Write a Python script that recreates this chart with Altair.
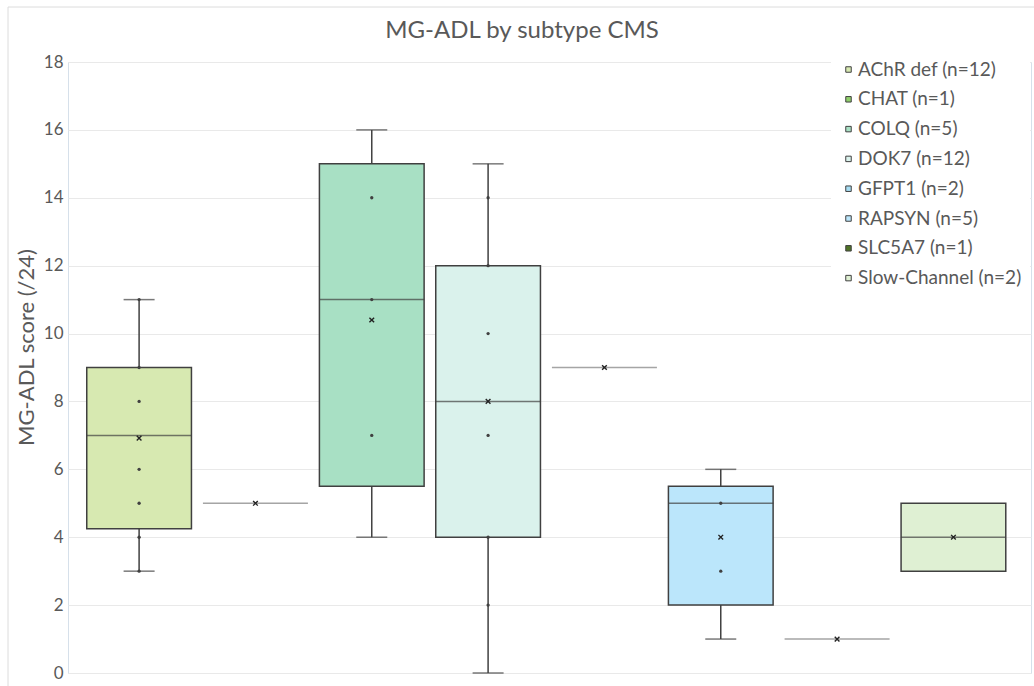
import altair as alt
import pandas as pd

# Summary statistics of MG-ADL score per CMS subtype
subtypes = ["AChR def", "CHAT", "COLQ", "DOK7", "GFPT1", "RAPSYN", "SLC5A7", "Slow-Channel"]
counts = [12, 1, 5, 12, 2, 5, 1, 2]
whisker_low = [3, 5, 4, 0, 9, 1, 1, 3]
quart1 = [4.25, 5, 5.5, 4, 9, 2, 1, 3]
medians = [7, 5, 11, 8, 9, 5, 1, 4]
quart3 = [9, 5, 15, 12, 9, 5.5, 1, 5]
whisker_high = [11, 5, 16, 15, 9, 6, 1, 5]
means = [6.92, 5, 10.4, 8, 9, 4, 1, 4]
fills = ["#d7e9b1", "#8fcf6b", "#a8e0c4", "#daf2ec", "#a6dcf2", "#bbe6fb", "#4f7326", "#dff0d3"]

# Individual scores drawn inside the boxes
inner_points = {
    "AChR def": [3, 4, 5, 6, 8, 9, 11],
    "COLQ": [7, 11, 14],
    "DOK7": [2, 4, 7, 10, 12, 14],
    "RAPSYN": [3, 5],
}

chart_title = "MG-ADL by subtype CMS"
y_title = "MG-ADL score (/24)"

labels = [f"{s} (n={n})" for s, n in zip(subtypes, counts)]
name_to_label = dict(zip(subtypes, labels))

stats = pd.DataFrame({
    "group": labels,
    "low": whisker_low,
    "q1": quart1,
    "median": medians,
    "q3": quart3,
    "high": whisker_high,
    "mean": means,
})
boxes = stats[stats.q3 > stats.q1]
flat = stats[stats.q3 == stats.q1]
low_whiskers = stats[stats.low < stats.q1]
high_whiskers = stats[stats.high > stats.q3]

pts = pd.DataFrame(
    [(name_to_label[k], v) for k, vals in inner_points.items() for v in vals],
    columns=["group", "score"],
)

FONT = "Lato"
TXT = "#595959"
EDGE = "#404040"

x_scale = alt.Scale(domain=labels, paddingInner=0, paddingOuter=0.139, align=0.4)
y_scale = alt.Scale(domain=[0, 18], nice=False)
x_enc = alt.X("group:N", scale=x_scale, axis=None)

y_axis = alt.Axis(
    values=list(range(0, 19, 2)),
    title=y_title,
    titleFont=FONT, titleFontSize=22, titleFontWeight="normal", titleColor=TXT,
    titleAngle=-90, titleX=-42, titleY=285, titleAlign="center", titleBaseline="middle",
    labelFont=FONT, labelFontSize=17, labelColor=TXT, labelPadding=5,
    ticks=False, domain=False, grid=True, gridColor="#e9e9e9", gridWidth=1,
)

box_layer = alt.Chart(boxes).mark_bar(
    width=alt.RelativeBandSize(0.9), stroke=EDGE, strokeWidth=1.5
).encode(
    x=x_enc,
    y=alt.Y("q1:Q", scale=y_scale, axis=y_axis),
    y2="q3:Q",
    color=alt.Color(
        "group:N",
        scale=alt.Scale(domain=labels, range=fills),
        legend=alt.Legend(
            title=None, orient="none", legendX=763, legendY=-10,
            fillColor="white", padding=8,
            symbolType="square", symbolSize=30, symbolStrokeColor=EDGE, symbolStrokeWidth=1,
            symbolOpacity=1,
            labelFont=FONT, labelFontSize=19, labelColor=TXT, labelOffset=0,
            rowPadding=9.8, labelLimit=300,
        ),
    ),
)

whisker_lo = alt.Chart(low_whiskers).mark_rule(color=EDGE, strokeWidth=1.5).encode(
    x=x_enc, y=alt.Y("low:Q", scale=y_scale), y2="q1:Q"
)
whisker_hi = alt.Chart(high_whiskers).mark_rule(color=EDGE, strokeWidth=1.5).encode(
    x=x_enc, y=alt.Y("q3:Q", scale=y_scale), y2="high:Q"
)
cap_lo = alt.Chart(low_whiskers).mark_tick(color=EDGE, size=31, thickness=1.5).encode(
    x=x_enc, y=alt.Y("low:Q", scale=y_scale)
)
cap_hi = alt.Chart(high_whiskers).mark_tick(color=EDGE, size=31, thickness=1.5).encode(
    x=x_enc, y=alt.Y("high:Q", scale=y_scale)
)
median_line = alt.Chart(boxes).mark_tick(color=EDGE, size=105, thickness=1.5).encode(
    x=x_enc, y=alt.Y("median:Q", scale=y_scale)
)
flat_line = alt.Chart(flat).mark_tick(color="#7f7f7f", size=105, thickness=1.5).encode(
    x=x_enc, y=alt.Y("median:Q", scale=y_scale)
)
dots = alt.Chart(pts).mark_point(
    shape="circle", filled=True, size=11, color=EDGE, opacity=1
).encode(x=x_enc, y=alt.Y("score:Q", scale=y_scale))
mean_marks = alt.Chart(stats).mark_point(
    shape="M-1,-1L1,1M1,-1L-1,1", filled=False, size=22, stroke="#222222", strokeWidth=1.4, opacity=1
).encode(x=x_enc, y=alt.Y("mean:Q", scale=y_scale))

# Chart heading and a thin outer frame around the figure
deco_df = pd.DataFrame({"t": [chart_title]})
heading = alt.Chart(deco_df).mark_text(
    font=FONT, fontSize=24, color=TXT, align="center", baseline="alphabetic"
).encode(x=alt.value(454), y=alt.value(-24), text="t:N")
frame_left = alt.Chart(deco_df).mark_rule(color="#dcdcdc", strokeWidth=1).encode(
    x=alt.value(-60), y=alt.value(-55), y2=alt.value(630)
)
frame_top = alt.Chart(deco_df).mark_rule(color="#dcdcdc", strokeWidth=1).encode(
    x=alt.value(-60), x2=alt.value(975), y=alt.value(-55)
)

chart = alt.layer(
    frame_left, frame_top, heading,
    box_layer, whisker_lo, whisker_hi, cap_lo, cap_hi,
    median_line, flat_line, dots, mean_marks,
).properties(
    width=963, height=611,
    autosize=alt.AutoSizeParams(type="none"),
    padding={"left": 68, "top": 62, "right": 3, "bottom": 13},
    background="white",
).configure_view(stroke="#d6e0ea", strokeWidth=1)

chart.save("out.html", embed_options={"renderer": "svg", "actions": False})
